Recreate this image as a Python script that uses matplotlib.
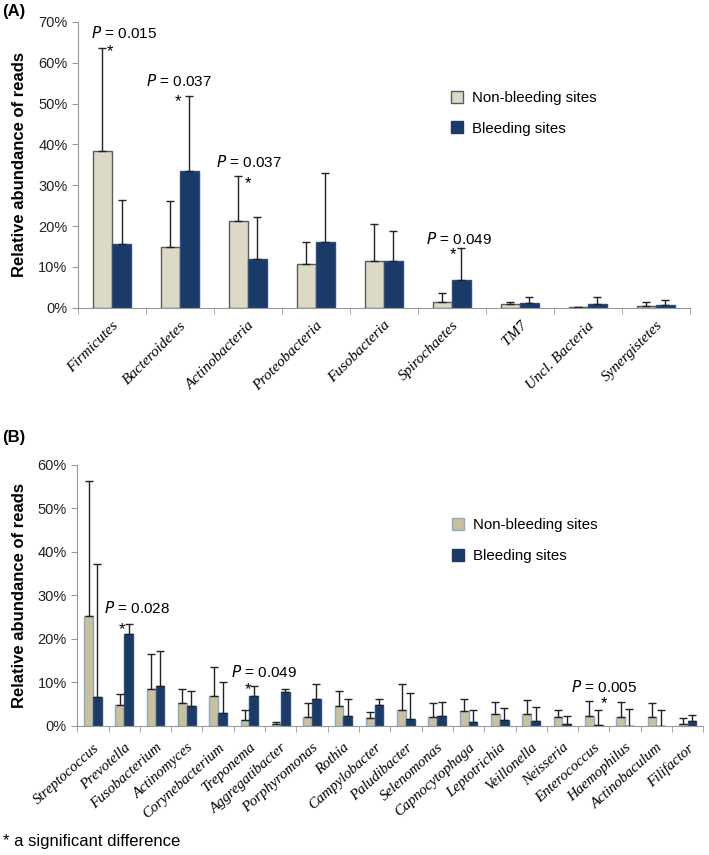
import numpy as np
import matplotlib.pyplot as plt
from matplotlib.lines import Line2D

plt.rcParams['font.family'] = ['Liberation Sans', 'DejaVu Sans']

# panel A: phyla
phyla = ['Firmicutes', 'Bacteroidetes', 'Actinobacteria', 'Proteobacteria', 'Fusobacteria',
         'Spirochaetes', 'TM7', 'Uncl. Bacteria', 'Synergistetes']
a_nonbleed = [38.5, 15.0, 21.2, 10.8, 11.5, 1.4, 0.9, 0.2, 0.5]
a_nonbleed_sd = [25.2, 11.1, 11.1, 5.4, 9.0, 2.3, 0.6, 0.1, 0.8]
a_bleed = [15.5, 33.5, 12.0, 16.2, 11.5, 6.9, 1.1, 0.9, 0.7]
a_bleed_sd = [10.8, 18.3, 10.3, 16.8, 7.2, 7.7, 1.5, 1.7, 1.1]

# panel B: genera
genera = ['Streptococcus', 'Prevotella', 'Fusobacterium', 'Actinomyces', 'Corynebacterium',
          'Treponema', 'Aggregatibacter', 'Porphyromonas', 'Rothia', 'Campylobacter',
          'Paludibacter', 'Selenomonas', 'Capnocytophaga', 'Leptotrichia', 'Veillonella',
          'Neisseria', 'Enterococcus', 'Haemophilus', 'Actinobaculum', 'Filifactor']
b_nonbleed = [25.3, 4.8, 8.5, 5.3, 6.8, 1.4, 0.3, 2.0, 4.5, 1.7,
              3.7, 2.1, 3.4, 2.8, 2.6, 1.9, 2.3, 2.0, 2.0, 0.5]
b_nonbleed_sd = [31.0, 2.4, 8.1, 3.2, 6.8, 2.3, 0.6, 3.2, 3.6, 1.4,
                 5.8, 3.1, 2.7, 2.7, 3.4, 1.8, 3.5, 3.5, 3.2, 1.3]
b_bleed = [6.6, 21.0, 9.1, 4.5, 3.0, 6.8, 7.7, 6.2, 2.3, 4.7,
           1.6, 2.3, 0.9, 1.3, 1.1, 0.4, 0.1, 0.05, 0.05, 1.1]
b_bleed_sd = [30.7, 2.4, 8.1, 3.5, 7.0, 2.4, 0.8, 3.4, 3.8, 1.4,
              5.9, 3.2, 2.8, 2.8, 3.3, 1.9, 3.6, 3.85, 3.55, 1.4]

navy = '#1a3a68'


def draw_panel(ax, cats, nb, nb_sd, bl, bl_sd, ymax, nb_color, nb_edge, labsize, rot, pad):
    x = np.arange(len(cats))
    w = 0.28
    err_kw = dict(ecolor='#222222', elinewidth=1.0, capsize=3, capthick=1.0)
    ax.bar(x - w / 2, nb, w, yerr=[np.zeros(len(nb)), nb_sd], color=nb_color,
           edgecolor=nb_edge, linewidth=1.0, error_kw=err_kw, zorder=2)
    ax.bar(x + w / 2, bl, w, yerr=[np.zeros(len(bl)), bl_sd], color=navy,
           edgecolor='#2c4f80', linewidth=1.0, error_kw=err_kw, zorder=2)
    ax.set_xlim(-0.5, len(cats) - 0.5)
    ax.set_ylim(0, ymax)
    ax.set_yticks(np.arange(0, ymax + 1, 10))
    ax.set_yticklabels([f'{v}%' for v in range(0, ymax + 1, 10)], fontsize=10.5, color='#222222')
    ax.set_xticks(x)
    ax.set_xticklabels(cats, rotation=rot, ha='right', rotation_mode='anchor',
                       fontsize=labsize, family='Liberation Serif', style='italic')
    ax.set_xticks(np.arange(-0.5, len(cats)), minor=True)
    ax.tick_params(axis='x', which='major', length=0, pad=pad)
    ax.tick_params(axis='x', which='minor', length=4, color='#999999')
    ax.tick_params(axis='y', length=4, color='#999999')
    for s in ['top', 'right']:
        ax.spines[s].set_visible(False)
    for s in ['left', 'bottom']:
        ax.spines[s].set_color('#999999')
    ax.set_ylabel('Relative abundance of reads', fontsize=12, fontweight='bold', labelpad=8)
    handles = [Line2D([], [], marker='s', ls='', markersize=8, markerfacecolor=nb_color,
                      markeredgecolor=nb_edge, label='Non-bleeding sites'),
               Line2D([], [], marker='s', ls='', markersize=8, markerfacecolor=navy,
                      markeredgecolor=navy, label='Bleeding sites')]
    return handles


def pval(ax, x, y, text):
    ax.text(x, y, '$P$ = ' + text, ha='center', va='center', fontsize=11)


fig = plt.figure(figsize=(7.09, 8.55), dpi=100)

ax1 = fig.add_axes([0.110, 0.640, 0.863, 0.3345])
h = draw_panel(ax1, phyla, a_nonbleed, a_nonbleed_sd, a_bleed, a_bleed_sd, 70,
               '#dcd9c5', '#5a5a5a', 11, 45, 8)
ax1.legend(handles=h, loc='center left', bbox_to_anchor=(0.585, 0.68), frameon=False,
           fontsize=10.8, handlelength=1.0, handletextpad=0.5, labelspacing=1.1)
pval(ax1, 0.18, 67.2, '0.015')
ax1.text(-0.03, 62.8, '*', ha='center', va='center', fontsize=12)
pval(ax1, 0.98, 55.6, '0.037')
ax1.text(0.97, 50.5, '*', ha='center', va='center', fontsize=12)
pval(ax1, 2.01, 35.8, '0.037')
ax1.text(2.0, 30.4, '*', ha='center', va='center', fontsize=12)
pval(ax1, 5.1, 16.8, '0.049')
ax1.text(5.01, 13.0, '*', ha='center', va='center', fontsize=12)

ax2 = fig.add_axes([0.109, 0.1512, 0.883, 0.305])
h = draw_panel(ax2, genera, b_nonbleed, b_nonbleed_sd, b_bleed, b_bleed_sd, 60,
               '#c9c19c', '#88aacb', 10.8, 42, 11)
ax2.legend(handles=h, loc='center left', bbox_to_anchor=(0.575, 0.71), frameon=False,
           fontsize=10.8, handlelength=1.0, handletextpad=0.5, labelspacing=1.1)
pval(ax2, 1.42, 27.0, '0.028')
ax2.text(0.93, 22.0, '*', ha='center', va='center', fontsize=12)
pval(ax2, 5.46, 12.3, '0.049')
ax2.text(4.94, 8.4, '*', ha='center', va='center', fontsize=12)
pval(ax2, 16.33, 8.9, '0.005')
ax2.text(16.32, 5.0, '*', ha='center', va='center', fontsize=12)

fig.text(0.003, 0.986, '(A)', fontsize=12, fontweight='bold', va='center')
fig.text(0.003, 0.488, '(B)', fontsize=12, fontweight='bold', va='center')
fig.text(0.004, 0.016, '* a significant difference', fontsize=12, va='center')

fig.savefig('out.png', dpi=100)
